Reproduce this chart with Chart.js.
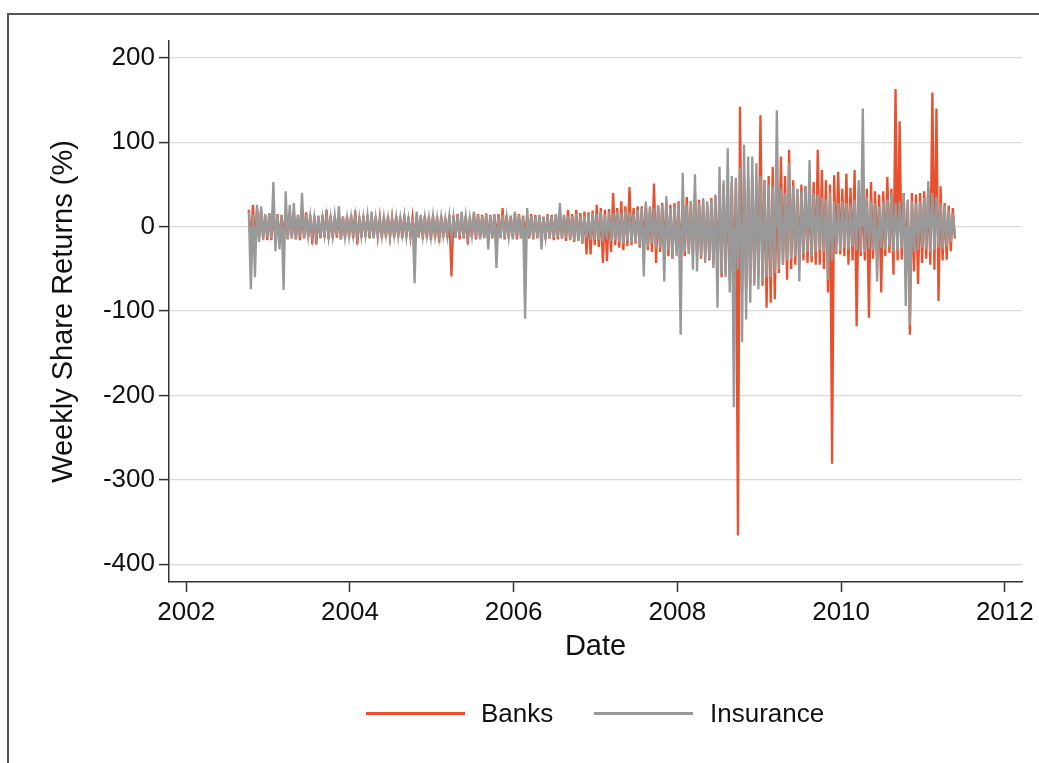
<!DOCTYPE html>
<html>
<head>
<meta charset="utf-8">
<title>Weekly Share Returns</title>
<script src="https://cdn.jsdelivr.net/npm/chart.js@4.4.1/dist/chart.umd.min.js"></script>
<style>
  body { margin: 0; background: #fff; font-family: "Liberation Sans", Arial, sans-serif; }
  #wrap { position: relative; width: 1039px; height: 763px; overflow: hidden; }
  #frame { position: absolute; left: 7px; top: 13px; width: 1100px; height: 800px;
           border-left: 2px solid #555; border-top: 2px solid #555; }
  #chart { position: absolute; left: 0; top: 0; }
  .swatch { position: absolute; height: 3px; width: 99px; }
  .label { position: absolute; font-size: 26px; line-height: 30px; color: #111; white-space: nowrap; }
</style>
</head>
<body>
<div id="wrap">
  <div id="frame"></div>
  <canvas id="chart" width="1039" height="763"></canvas>
  <div id="legend"></div>
</div>
<script>
// series names and colours
const seriesNames = ['Banks', 'Insurance'];
const seriesColors = ['#e8502e', '#999999'];

// x ticks (years) and y ticks (%)
const xTicks = [2002, 2004, 2006, 2008, 2010, 2012];
const yTicks = [-400, -300, -200, -100, 0, 100, 200];

// values: max and min weekly return in each 0.05-year bin,
// first bin starts late 2002, last one early 2011
const binStart = 2002.765;
const binStep = 0.05;

const bankHigh = [
  20, 26, 22, 20, 14,
  16, 18, 15, 14, 18, 17, 15, 14, 16, 17, 14, 13, 12, 14, 20, 13, 12, 14, 12, 13, // 2003
  14, 19, 12, 13, 14, 13, 12, 11, 12, 13, 11, 13, 12, 14, 12, 11, 13, 12, 13, 12, // 2004
  14, 12, 13, 11, 14, 13, 15, 14, 13, 12, 16, 15, 14, 15, 14, 14, 15, 22, 14, 13, // 2005
  16, 15, 13, 14, 15, 14, 13, 12, 15, 14, 14, 15, 13, 20, 15, 20, 16, 18, 17, 19, // 2006
  26, 22, 20, 21, 40, 22, 30, 24, 47, 22, 24, 24, 26, 22, 51, 25, 28, 30, 26, 28, // 2007
  30, 32, 35, 30, 38, 32, 30, 26, 34, 36, 45, 50, 48, 52, 55, 142, 60, 55, 58, 50, // 2008
  132, 55, 60, 71, 50, 83, 60, 91, 55, 44, 50, 48, 45, 53, 91, 67, 55, 50, 61, 65, // 2009
  45, 63, 46, 67, 42, 40, 45, 53, 42, 38, 42, 59, 45, 163, 125, 40, 32, 40, 38, 40, // 2010
  42, 45, 159, 140, 48, 28, 25, 22 // 2011
];
const bankLow = [
  -20, -18, -15, -14, -16,
  -16, -15, -18, -14, -15, -14, -15, -16, -14, -13, -21, -21, -14, -13, -15, -14, -13, -15, -14, -13,
  -14, -21, -13, -12, -14, -13, -12, -14, -13, -12, -13, -12, -14, -13, -12, -14, -13, -15, -14, -16,
  -14, -19, -13, -14, -59, -13, -15, -14, -21, -13, -15, -14, -13, -15, -14, -14, -13, -15, -14, -13,
  -15, -14, -13, -14, -15, -14, -13, -15, -14, -16, -15, -14, -17, -16, -18, -17, -20, -33, -33, -22,
  -24, -43, -41, -30, -22, -25, -28, -23, -22, -20, -25, -22, -28, -30, -43, -30, -28, -35, -38, -30,
  -40, -35, -32, -30, -35, -38, -35, -40, -45, -50, -60, -55, -65, -70, -366, -80, -75, -70, -65, -60,
  -70, -96, -90, -86, -55, -45, -63, -50, -45, -43, -40, -43, -42, -45, -45, -50, -78, -281, -32, -33,
  -35, -45, -40, -118, -35, -40, -108, -38, -35, -78, -35, -31, -57, -40, -39, -45, -128, -53, -68, -43,
  -38, -45, -51, -88, -40, -39, -29, -14
];
const insHigh = [
  18, 15, 26, 24, 15,
  16, 53, 14, 12, 42, 26, 28, 13, 40, 14, 12, 11, 13, 10, 12, 11, 13, 24, 12, 10,
  11, 12, 10, 11, 13, 18, 10, 9, 11, 10, 9, 11, 10, 12, 9, 10, 18, 14, 11, 10,
  12, 10, 11, 9, 12, 11, 13, 18, 12, 10, 18, 14, 12, 16, 13, 15, 12, 14, 11, 12,
  18, 14, 12, 22, 13, 12, 14, 11, 13, 12, 15, 28, 14, 13, 12, 15, 12, 13, 14, 16,
  15, 18, 14, 17, 16, 18, 16, 19, 17, 15, 20, 22, 30, 24, 22, 25, 26, 36, 22, 24,
  28, 64, 26, 30, 62, 28, 34, 30, 32, 38, 71, 55, 93, 60, 58, 70, 97, 83, 83, 75,
  60, 55, 50, 48, 138, 45, 40, 75, 48, 45, 42, 48, 79, 40, 38, 35, 32, 40, 30, 28,
  30, 28, 26, 32, 55, 140, 35, 30, 28, 24, 30, 32, 40, 28, 30, 40, 32, 30, 28, 30,
  34, 54, 40, 35, 28, 25, 20, 16
];
const insLow = [
  -74, -60, -18, -16, -12,
  -14, -29, -27, -75, -14, -13, -15, -12, -14, -11, -12, -11, -13, -10, -12, -11, -10, -15, -12, -11,
  -10, -12, -11, -10, -12, -14, -10, -11, -9, -12, -10, -11, -9, -12, -10, -67, -12, -11, -10, -12,
  -11, -12, -10, -11, -12, -13, -11, -12, -12, -10, -13, -15, -14, -27, -12, -49, -14, -13, -12, -15,
  -13, -14, -109, -12, -14, -13, -27, -12, -14, -13, -12, -14, -13, -15, -16, -17, -19, -14, -16, -15,
  -16, -18, -15, -17, -16, -18, -20, -17, -19, -18, -22, -59, -24, -20, -26, -25, -65, -28, -37, -35,
  -128, -30, -32, -51, -53, -35, -43, -38, -49, -96, -55, -60, -78, -214, -51, -137, -110, -90, -70, -74,
  -65, -60, -60, -55, -50, -45, -40, -38, -35, -65, -32, -30, -35, -30, -28, -30, -63, -40, -30, -28,
  -25, -27, -24, -28, -30, -30, -26, -28, -65, -25, -27, -24, -30, -28, -26, -94, -116, -30, -28, -25,
  -27, -30, -28, -25, -26, -24, -18, -12
];

// one line per group: high at bin start, low half a bin later
function binPoints(high, low) {
  const pts = [];
  high.forEach((h, i) => {
    const t = binStart + i * binStep;
    pts.push({ x: t, y: h });
    pts.push({ x: t + binStep / 2, y: low[i] });
  });
  return pts;
}

const tickFont = { family: '"Liberation Sans", Arial, sans-serif', size: 26 };
const titleFont = { family: '"Liberation Sans", Arial, sans-serif', size: 29 };
const textColor = '#111';
const axisColor = '#333';

const ctx = document.getElementById('chart');
new Chart(ctx, {
  type: 'line',
  data: {
    // insurance first so it is drawn on top of banks
    datasets: [
      { label: seriesNames[1], data: binPoints(insHigh, insLow),
        borderColor: seriesColors[1], backgroundColor: seriesColors[1], fill: 'origin' },
      { label: seriesNames[0], data: binPoints(bankHigh, bankLow),
        borderColor: seriesColors[0], backgroundColor: seriesColors[0], fill: 'origin' }
    ]
  },
  options: {
    responsive: false,
    animation: false,
    layout: { padding: { left: 0, right: 13, top: 41, bottom: 99 } },
    elements: {
      point: { radius: 0 },
      line: { borderWidth: 2.3, tension: 0 }
    },
    plugins: { legend: { display: false }, tooltip: { enabled: false } },
    scales: {
      x: {
        type: 'linear',
        min: 2001.79,
        max: 2012.21,
        afterBuildTicks: (s) => { s.ticks = xTicks.map(v => ({ value: v })); },
        afterFit: (s) => { s.height = 82; },
        ticks: { font: tickFont, color: textColor, padding: 5, maxRotation: 0, callback: (v) => String(v) },
        grid: { drawOnChartArea: false, tickLength: 10, tickColor: axisColor, tickWidth: 1.5 },
        border: { color: axisColor, width: 1.5 },
        title: { display: true, text: 'Date', font: titleFont, color: textColor, padding: { top: 0, bottom: 0 } }
      },
      y: {
        min: -421,
        max: 220,
        afterBuildTicks: (s) => { s.ticks = yTicks.map(v => ({ value: v })); },
        afterFit: (s) => { s.width = 169; },
        ticks: { font: tickFont, color: textColor, padding: 4 },
        grid: { color: '#dadada', lineWidth: 1.2, tickLength: 10, tickColor: axisColor, tickWidth: 1.5 },
        border: { color: axisColor, width: 1.5 },
        title: { display: true, text: 'Weekly Share Returns (%)', font: titleFont, color: textColor, padding: { top: 47 } }
      }
    }
  }
});

// legend below the plot
const legend = document.getElementById('legend');
const legendPos = [{ line: 366, text: 481 }, { line: 594, text: 710 }];
seriesNames.forEach((name, i) => {
  const sw = document.createElement('div');
  sw.className = 'swatch';
  sw.style.left = legendPos[i].line + 'px';
  sw.style.top = '712px';
  sw.style.background = seriesColors[i];
  legend.appendChild(sw);
  const lab = document.createElement('div');
  lab.className = 'label';
  lab.style.left = legendPos[i].text + 'px';
  lab.style.top = '698px';
  lab.textContent = name;
  legend.appendChild(lab);
});
</script>
</body>
</html>
